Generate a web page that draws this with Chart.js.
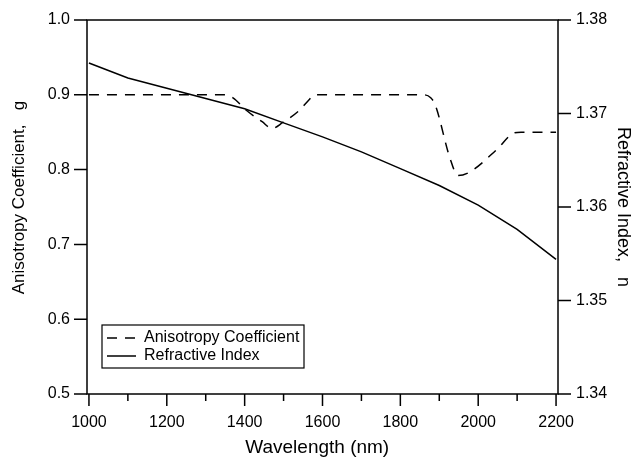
<!DOCTYPE html>
<html>
<head>
<meta charset="utf-8">
<script src="https://cdn.jsdelivr.net/npm/chart.js@4.4.1/dist/chart.umd.min.js"></script>
<style>
  body { margin: 0; background: #fff; }
  #wrap { width: 634px; height: 459px; position: relative; }
</style>
</head>
<body>
<div id="wrap"><canvas id="chart"></canvas></div>
<script>
// Refractive index (solid, right axis)
const nWave = [1000, 1050, 1100, 1200, 1300, 1400, 1500, 1600, 1700, 1800, 1900, 2000, 2100, 2200];
const nValues = [1.3754, 1.3746, 1.3738, 1.3727, 1.3716, 1.3705, 1.3690, 1.3675, 1.3659, 1.3641, 1.3623, 1.3602, 1.3576, 1.3544];

// Anisotropy coefficient (dashed, left axis)
const gWave = [1000, 1350, 1370, 1405, 1445, 1470, 1498, 1540, 1565, 1580, 1860, 1878, 1890, 1927, 1948, 1979, 2048, 2092, 2110, 2200];
const gValues = [0.900, 0.900, 0.896, 0.879, 0.864, 0.855, 0.863, 0.879, 0.893, 0.900, 0.900, 0.896, 0.886, 0.816, 0.792, 0.797, 0.827, 0.849, 0.850, 0.850];

// ticks
const xTicks = [1000, 1100, 1200, 1300, 1400, 1500, 1600, 1700, 1800, 1900, 2000, 2100, 2200];
const gTicks = [0.5, 0.6, 0.7, 0.8, 0.9, 1.0];
const nTicks = [1.34, 1.35, 1.36, 1.37, 1.38];

const FONT = 'Liberation Sans, Arial, sans-serif';
const DASH = [10, 8];

const toXY = (xs, ys) => xs.map((x, i) => ({x: x, y: ys[i]}));

// y scales should not push the plot area down with their label overflow
const fixWidth = (w) => (s) => {
    s.width = w;
    s.paddingTop = 0;
    s.paddingBottom = 0;
};

// frame, tick marks and the boxed legend
const frameAndTicks = {
    id: 'frameAndTicks',
    afterDraw(chart) {
        const {ctx, chartArea: a, scales} = chart;
        ctx.save();
        ctx.strokeStyle = '#000';
        ctx.lineWidth = 1.5;
        ctx.strokeRect(a.left, a.top, a.right - a.left, a.bottom - a.top);

        ctx.beginPath();
        xTicks.forEach(v => {
            const px = scales.x.getPixelForValue(v);
            const len = v % 200 === 0 ? 12 : 7;
            ctx.moveTo(px, a.bottom);
            ctx.lineTo(px, a.bottom + len);
        });
        gTicks.forEach(v => {
            const py = scales.g.getPixelForValue(v);
            ctx.moveTo(a.left - 13, py);
            ctx.lineTo(a.left, py);
        });
        nTicks.forEach(v => {
            const py = scales.n.getPixelForValue(v);
            ctx.moveTo(a.right, py);
            ctx.lineTo(a.right + 13, py);
        });
        ctx.stroke();

        // legend
        const bx = a.left + 15, by = a.bottom - 69, bw = 202, bh = 43;
        ctx.fillStyle = '#fff';
        ctx.fillRect(bx, by, bw, bh);
        ctx.lineWidth = 1.2;
        ctx.strokeRect(bx, by, bw, bh);

        const rows = [
            {label: 'Anisotropy Coefficient', dash: DASH, y: by + 13},
            {label: 'Refractive Index', dash: [], y: by + 31}
        ];
        ctx.font = '16px ' + FONT;
        ctx.fillStyle = '#000';
        ctx.textBaseline = 'middle';
        rows.forEach(r => {
            ctx.beginPath();
            ctx.setLineDash(r.dash);
            ctx.lineWidth = 1.5;
            ctx.moveTo(bx + 5, r.y);
            ctx.lineTo(bx + 34, r.y);
            ctx.stroke();
            ctx.setLineDash([]);
            ctx.fillText(r.label, bx + 42, r.y);
        });
        ctx.restore();
    }
};

new Chart(document.getElementById('chart'), {
    type: 'line',
    data: {
        datasets: [{
            label: 'Anisotropy Coefficient',
            data: toXY(gWave, gValues),
            yAxisID: 'g',
            borderColor: '#000',
            borderWidth: 1.5,
            borderDash: DASH,
            pointRadius: 0,
            cubicInterpolationMode: 'monotone',
            fill: false
        }, {
            label: 'Refractive Index',
            data: toXY(nWave, nValues),
            yAxisID: 'n',
            borderColor: '#000',
            borderWidth: 1.5,
            pointRadius: 0,
            tension: 0,
            fill: false
        }]
    },
    options: {
        responsive: true,
        maintainAspectRatio: false,
        animation: false,
        layout: {padding: {top: 20, left: 0, right: 0, bottom: 0}},
        plugins: {legend: {display: false}, tooltip: {enabled: false}},
        scales: {
            x: {
                type: 'linear',
                min: 995,
                max: 2205,
                afterBuildTicks: (s) => { s.ticks = xTicks.map(v => ({value: v})); },
                afterFit: (s) => { s.height = 65; },
                grid: {display: false, drawTicks: false},
                border: {display: false},
                ticks: {
                    autoSkip: false,
                    maxRotation: 0,
                    padding: 19,
                    color: '#000',
                    font: {family: FONT, size: 16},
                    callback: (v) => v % 200 === 0 ? String(v) : ''
                },
                title: {
                    display: true,
                    text: 'Wavelength (nm)  ',
                    color: '#000',
                    font: {family: FONT, size: 19},
                    padding: {top: 0, bottom: 0}
                }
            },
            g: {
                type: 'linear',
                position: 'left',
                min: 0.5,
                max: 1.0,
                afterBuildTicks: (s) => { s.ticks = gTicks.map(v => ({value: v})); },
                afterFit: fixWidth(87),
                grid: {display: false, drawTicks: false},
                border: {display: false},
                ticks: {
                    padding: 17,
                    color: '#000',
                    font: {family: FONT, size: 16},
                    callback: (v) => v.toFixed(1)
                },
                title: {
                    display: true,
                    text: '    Anisotropy Coefficient,   g',
                    color: '#000',
                    font: {family: FONT, size: 17},
                    padding: {top: 9, bottom: 0}
                }
            },
            n: {
                type: 'linear',
                position: 'right',
                min: 1.34,
                max: 1.38,
                afterBuildTicks: (s) => { s.ticks = nTicks.map(v => ({value: v})); },
                afterFit: fixWidth(76),
                grid: {display: false, drawTicks: false},
                border: {display: false},
                ticks: {
                    padding: 18,
                    color: '#000',
                    font: {family: FONT, size: 16},
                    callback: (v) => v.toFixed(2)
                },
                title: {
                    display: true,
                    text: 'Refractive Index,   n',
                    color: '#000',
                    font: {family: FONT, size: 18},
                    padding: {top: 0, bottom: 0}
                }
            }
        }
    },
    plugins: [frameAndTicks]
});
</script>
</body>
</html>
